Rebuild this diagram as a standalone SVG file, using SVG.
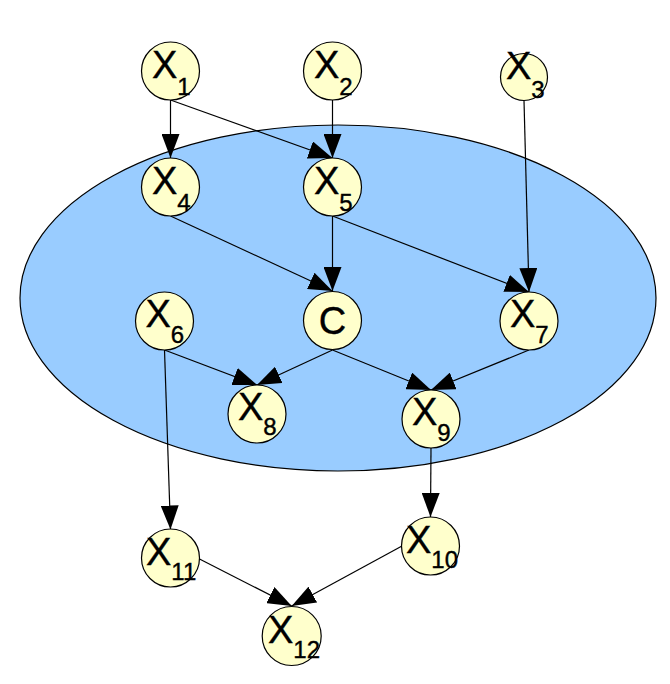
<svg xmlns="http://www.w3.org/2000/svg" width="670" height="684" viewBox="0 0 670 684">
<defs>
<style>
.node{fill:#FFFFCC;stroke:#000;stroke-width:1.2}
.lbl{font-family:"Liberation Sans",Arial,sans-serif;font-size:38px;fill:#000;stroke:#000;stroke-width:0.4}
.sub{font-size:24px}
.edge{stroke:#000;stroke-width:1.2;fill:none;marker-end:url(#arr)}
</style>
<marker id="arr" markerUnits="userSpaceOnUse" markerWidth="24" markerHeight="18" viewBox="0 0 24 18" refX="24" refY="9" orient="auto">
<path d="M0,0 L24,9 L0,18 z" fill="#000"/>
</marker>
</defs>
<rect width="670" height="684" fill="#fff"/>
<ellipse id="region" cx="338" cy="298" rx="318" ry="173" fill="#99CCFF" stroke="#000" stroke-width="1.2"/>
<g id="connectors">
<line class="edge" x1="170.5" y1="100" x2="170.5" y2="158"/>
<line class="edge" x1="170.5" y1="100" x2="332.5" y2="158"/>
<line class="edge" x1="332.5" y1="100" x2="332.5" y2="158"/>
<line class="edge" x1="524" y1="100.5" x2="529" y2="292"/>
<line class="edge" x1="170.5" y1="216" x2="332.5" y2="291"/>
<line class="edge" x1="332.5" y1="216" x2="332.5" y2="291"/>
<line class="edge" x1="332.5" y1="216" x2="529" y2="292"/>
<line class="edge" x1="164.5" y1="350" x2="257" y2="385"/>
<line class="edge" x1="332.5" y1="350" x2="257" y2="385"/>
<line class="edge" x1="332.5" y1="350" x2="431" y2="390"/>
<line class="edge" x1="529" y1="350" x2="431" y2="390"/>
<line class="edge" x1="164.5" y1="350" x2="170.5" y2="529.5"/>
<line class="edge" x1="431" y1="448" x2="430.5" y2="517"/>
<line class="edge" x1="199.5" y1="559" x2="291.7" y2="606"/>
<line class="edge" x1="402" y1="546" x2="291.7" y2="606"/>
</g>
<g id="X1"><circle class="node" cx="170.5" cy="71" r="29"/><text class="lbl" x="152" y="78">X<tspan class="sub" dy="17">1</tspan></text></g>
<g id="X2"><circle class="node" cx="332.5" cy="71" r="29"/><text class="lbl" x="314" y="78">X<tspan class="sub" dy="17">2</tspan></text></g>
<g id="X3"><circle class="node" cx="524" cy="77" r="23.5"/><text class="lbl" x="506" y="79">X<tspan class="sub" dy="19">3</tspan></text></g>
<g id="X4"><circle class="node" cx="170.5" cy="187" r="29"/><text class="lbl" x="152" y="194">X<tspan class="sub" dy="17">4</tspan></text></g>
<g id="X5"><circle class="node" cx="332.5" cy="187" r="29"/><text class="lbl" x="314" y="194">X<tspan class="sub" dy="17">5</tspan></text></g>
<g id="C"><circle class="node" cx="332.5" cy="320.5" r="29"/><text class="lbl" x="332.5" y="333.5" text-anchor="middle">C</text></g>
<g id="X6"><circle class="node" cx="164.5" cy="321" r="29"/><text class="lbl" x="145.5" y="326.5">X<tspan class="sub" dy="16">6</tspan></text></g>
<g id="X7"><circle class="node" cx="529" cy="321" r="29"/><text class="lbl" x="510" y="327">X<tspan class="sub" dy="16">7</tspan></text></g>
<g id="X8"><circle class="node" cx="257" cy="414" r="29"/><text class="lbl" x="238" y="419.5">X<tspan class="sub" dy="15">8</tspan></text></g>
<g id="X9"><circle class="node" cx="431" cy="419" r="29"/><text class="lbl" x="412" y="425">X<tspan class="sub" dy="16">9</tspan></text></g>
<g id="X10"><circle class="node" cx="430.5" cy="546" r="29"/><text class="lbl" x="406" y="553">X<tspan class="sub" dy="15">10</tspan></text></g>
<g id="X11"><circle class="node" cx="170.5" cy="558" r="29"/><text class="lbl" x="146" y="565">X<tspan class="sub" dy="15">11</tspan></text></g>
<g id="X12"><circle class="node" cx="291.7" cy="636" r="29.5"/><text class="lbl" x="268" y="642.5">X<tspan class="sub" dy="15">12</tspan></text></g>
</svg>
